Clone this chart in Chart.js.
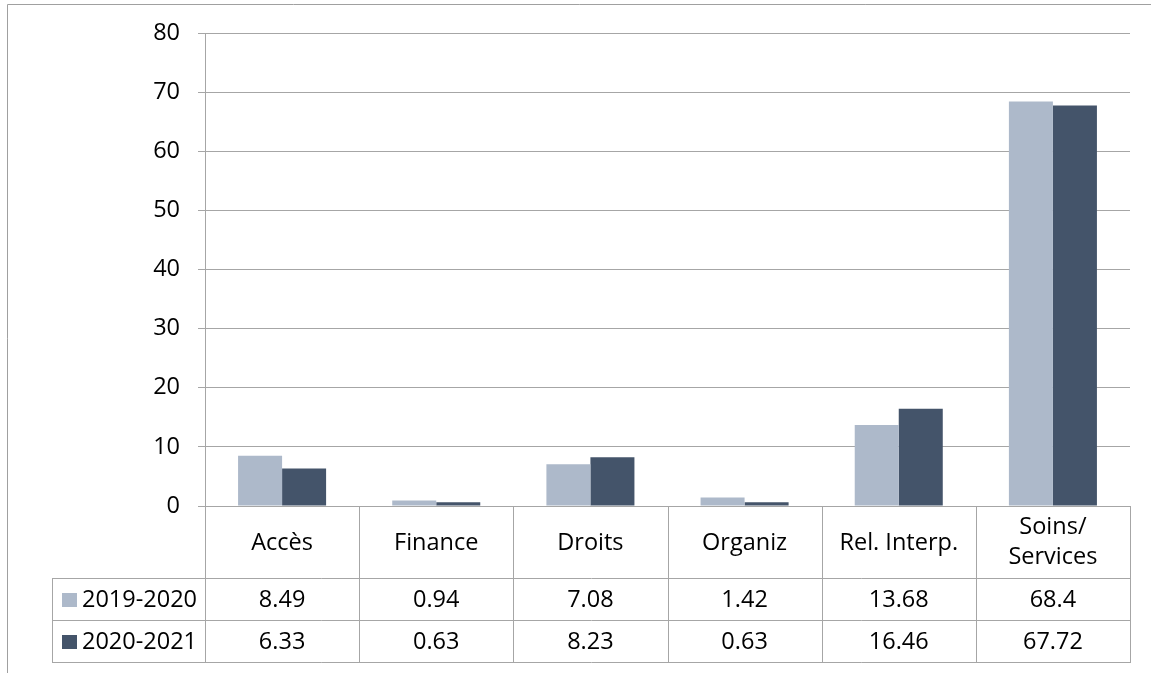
<!DOCTYPE html>
<html>
<head>
<meta charset="utf-8">
<script src="https://cdn.jsdelivr.net/npm/chart.js@4/dist/chart.umd.min.js"></script>
<style>
html,body{margin:0;padding:0;background:#fff;}
canvas{display:block;}
</style>
</head>
<body>
<canvas id="c" width="1151" height="673"></canvas>
<script>
const categories = ['Accès', 'Finance', 'Droits', 'Organiz', 'Rel. Interp.', ['Soins/', 'Services']];
const seriesNames = ['2019-2020', '2020-2021'];
const values2019 = [8.49, 0.94, 7.08, 1.42, 13.68, 68.4];
const values2020 = [6.33, 0.63, 8.23, 0.63, 16.46, 67.72];
const seriesColors = ['#adb9ca', '#44546a'];
const yTicks = {min: 0, max: 80, step: 10};

const FONT = '"Open Sans", "Liberation Sans", sans-serif';
const FS = 23.5;
const LINE = '#a6a6a6';

const tablePlugin = {
  id: 'dataTable',
  beforeDraw(chart) {
    const ctx = chart.ctx;
    ctx.save();
    ctx.fillStyle = '#fff';
    ctx.fillRect(0, 0, chart.width, chart.height);
    ctx.strokeStyle = '#a0a0a0';
    ctx.lineWidth = 1;
    ctx.beginPath();
    ctx.moveTo(7.5, chart.height);
    ctx.lineTo(7.5, 4.5);
    ctx.lineTo(chart.width, 4.5);
    ctx.stroke();
    ctx.restore();
  },
  afterDraw(chart) {
    const ctx = chart.ctx;
    const area = chart.chartArea;
    const xs = chart.scales.x;
    const n = categories.length;
    const half = (area.right - area.left) / n / 2;
    const centers = categories.map((c, i) => xs.getPixelForValue(i));
    const top = area.bottom;
    const headerH = 72;
    const rowH = 42;
    const r1 = top + headerH;
    const r2 = r1 + rowH;
    const r3 = r2 + rowH;
    const legendLeft = 52;
    ctx.save();
    ctx.strokeStyle = LINE;
    ctx.lineWidth = 1;
    const al = v => Math.round(v) + 0.5;
    ctx.beginPath();
    for (let i = 0; i <= n; i++) {
      const x = i < n ? centers[i] - half : centers[n - 1] + half;
      ctx.moveTo(al(x), top);
      ctx.lineTo(al(x), r3);
    }
    [r1, r2, r3].forEach(y => {
      ctx.moveTo(legendLeft, al(y));
      ctx.lineTo(al(area.right) + 0.5, al(y));
    });
    ctx.moveTo(al(legendLeft), al(r1));
    ctx.lineTo(al(legendLeft), al(r3));
    ctx.stroke();

    ctx.fillStyle = '#000';
    ctx.font = FS + 'px ' + FONT;
    ctx.textAlign = 'center';
    ctx.textBaseline = 'middle';
    categories.forEach((c, i) => {
      const cy = top + headerH / 2;
      if (Array.isArray(c)) {
        const lh = 30;
        c.forEach((line, j) => {
          ctx.fillText(line, centers[i], cy + (j - (c.length - 1) / 2) * lh);
        });
      } else {
        ctx.fillText(c, centers[i], cy + 1);
      }
    });
    const rows = [values2019, values2020];
    rows.forEach((vals, r) => {
      const cy = r1 + rowH * r + rowH / 2 + 1;
      vals.forEach((v, i) => {
        ctx.fillText(String(v), centers[i], cy);
      });
      ctx.fillStyle = seriesColors[r];
      ctx.fillRect(62, Math.round(cy - 7), 15, 14);
      ctx.fillStyle = '#000';
      ctx.textAlign = 'left';
      ctx.fillText(seriesNames[r], 82, cy);
      ctx.textAlign = 'center';
    });
    ctx.restore();
  }
};

new Chart(document.getElementById('c'), {
  type: 'bar',
  data: {
    labels: categories.map(c => Array.isArray(c) ? c.join(' ') : c),
    datasets: [
      {label: seriesNames[0], data: values2019, backgroundColor: seriesColors[0], borderWidth: 0},
      {label: seriesNames[1], data: values2020, backgroundColor: seriesColors[1], borderWidth: 0}
    ]
  },
  options: {
    responsive: false,
    animation: false,
    devicePixelRatio: 1,
    layout: {padding: {top: 33, right: 21, bottom: 167, left: 0}},
    datasets: {bar: {categoryPercentage: 0.571, barPercentage: 1.0}},
    plugins: {legend: {display: false}, tooltip: {enabled: false}, title: {display: false}},
    scales: {
      x: {display: false},
      y: {
        min: yTicks.min,
        max: yTicks.max,
        ticks: {stepSize: yTicks.step, color: '#000', font: {family: FONT, size: FS}, padding: 18},
        grid: {color: LINE, tickLength: 7, tickColor: LINE, lineWidth: 1},
        border: {display: true, color: LINE},
        afterFit(scale) { scale.width = 205; }
      }
    }
  },
  plugins: [tablePlugin]
});
</script>
</body>
</html>
